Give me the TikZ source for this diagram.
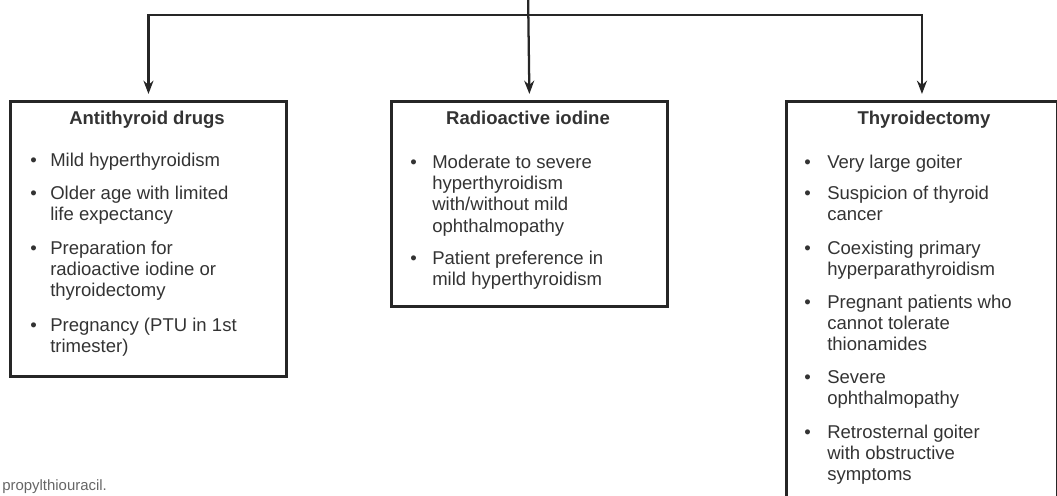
\documentclass[tikz,border=0pt]{standalone}
\usepackage{fontspec}
\setmainfont{Liberation Sans}
\usetikzlibrary{arrows.meta}

\newcommand{\lineas}[1]{\begin{tabular}[t]{@{}l@{}}#1\end{tabular}}

\begin{document}
\begin{tikzpicture}[
    x=0.75pt,
    y=-0.75pt,
    >={Stealth[length=10pt,width=7.5pt]},
    line join=miter,
    every node/.style={font=\fontsize{13.9}{16.1}\selectfont, text=black!80, inner sep=0pt},
    caja/.style={draw=black!85, line width=2.2pt, anchor=north west},
    flecha/.style={->, line width=1.7pt, draw=black!85, shorten >=4.5pt},
    titulo/.style={anchor=base, font=\fontsize{13.9}{16.1}\selectfont\bfseries},
    punto/.style={anchor=base west},
    texto/.style={anchor=base west}
]

\useasboundingbox (0,0) rectangle (1057,496);
\clip (0,0) rectangle (1057,496);

% boxes
\node[caja, minimum width=207pt, minimum height=206.25pt] (drugs) at (9,100) {};
\node[caja, minimum width=207pt, minimum height=153.75pt] (radio) at (390,100) {};
\node[caja, minimum width=203.25pt, minimum height=307.5pt] (cirugia) at (785,100) {};

% connectors
\coordinate (raiz) at (528,-10);
\coordinate (cruce) at (528,15);
\coordinate (izq) at (drugs.north |- cruce);
\coordinate (der) at (cirugia.north |- cruce);

\draw[flecha] (raiz) -- (radio.north);
\draw[flecha] (cruce) -- (izq) -- (drugs.north);
\draw[flecha] (cruce) -- (der) -- (cirugia.north);

% antithyroid drugs
\node[titulo] (t1) at (147,124) {Antithyroid drugs};
\node[punto] (b11) at (30,166) {\textbullet};
\node[texto] (i11) at (50,166) {\lineas{Mild hyperthyroidism}};
\node[punto] (b12) at (30,199) {\textbullet};
\node[texto] (i12) at (50,199) {\lineas{Older age with limited\\life expectancy}};
\node[punto] (b13) at (30,254) {\textbullet};
\node[texto] (i13) at (50,254) {\lineas{Preparation for\\radioactive iodine or\\thyroidectomy}};
\node[punto] (b14) at (30,331) {\textbullet};
\node[texto] (i14) at (50,331) {\lineas{Pregnancy (PTU in 1st\\trimester)}};

% radioactive iodine
\node[titulo] (t2) at (528,124) {Radioactive iodine};
\node[punto] (b21) at (410,168) {\textbullet};
\node[texto] (i21) at (432,168) {\lineas{Moderate to severe\\hyperthyroidism\\with/without mild\\ophthalmopathy}};
\node[punto] (b22) at (410,264) {\textbullet};
\node[texto] (i22) at (432,264) {\lineas{Patient preference in\\mild hyperthyroidism}};

% thyroidectomy
\node[titulo] (t3) at (924,124) {Thyroidectomy};
\node[punto] (b31) at (804,168) {\textbullet};
\node[texto] (i31) at (827,168) {\lineas{Very large goiter}};
\node[punto] (b32) at (804,199) {\textbullet};
\node[texto] (i32) at (827,199) {\lineas{Suspicion of thyroid\\cancer}};
\node[punto] (b33) at (804,254) {\textbullet};
\node[texto] (i33) at (827,254) {\lineas{Coexisting primary\\hyperparathyroidism}};
\node[punto] (b34) at (804,308) {\textbullet};
\node[texto] (i34) at (827,308) {\lineas{Pregnant patients who\\cannot tolerate\\thionamides}};
\node[punto] (b35) at (804,383) {\textbullet};
\node[texto] (i35) at (827,383) {\lineas{Severe\\ophthalmopathy}};
\node[punto] (b36) at (804,438) {\textbullet};
\node[texto] (i36) at (827,438) {\lineas{Retrosternal goiter\\with obstructive\\symptoms}};

% footnote
\node[anchor=base west, font=\fontsize{11.2}{13}\selectfont, text=black!60] (nota) at (2,490) {propylthiouracil.};

\end{tikzpicture}
\end{document}
